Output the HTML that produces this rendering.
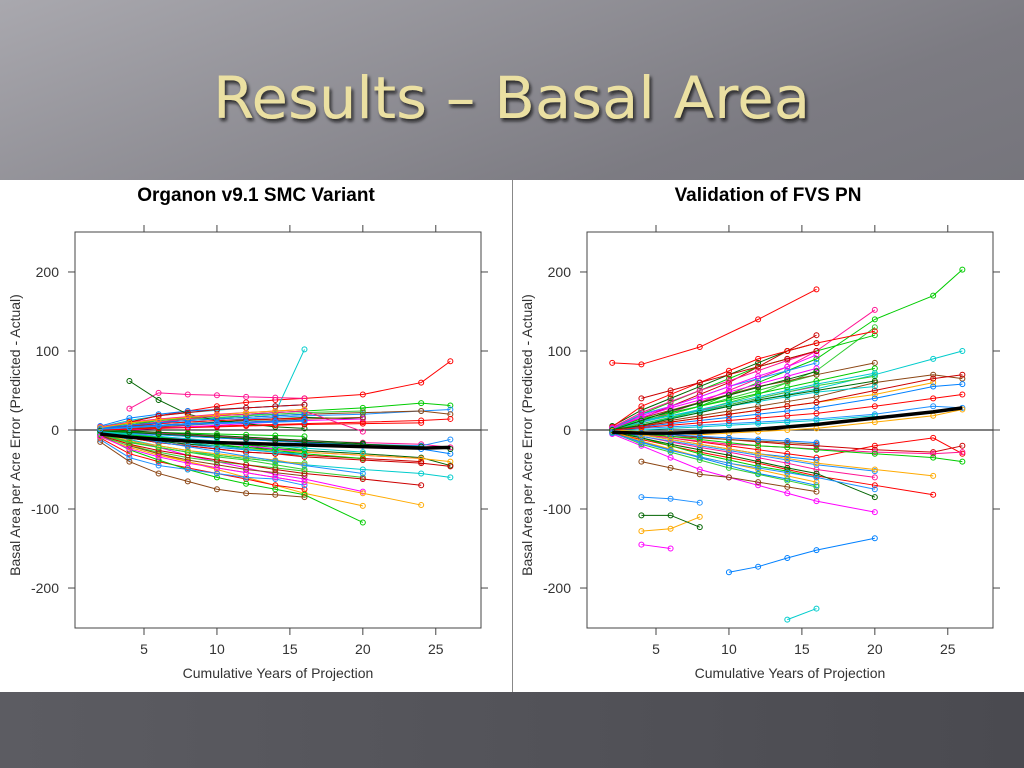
<!DOCTYPE html>
<html><head><meta charset="utf-8"><style>
html,body{margin:0;padding:0;width:1024px;height:768px;overflow:hidden;}
body{background:linear-gradient(160deg,#a9a8ae 0%,#7c7b82 35%,#5e5e65 100%);font-family:"Liberation Sans",sans-serif;position:relative;}
#bottom{position:absolute;left:0;top:692px;width:1024px;height:76px;background:linear-gradient(90deg,#5c5c62,#4a4a50);}
#panel{position:absolute;left:0;top:180px;width:1024px;height:512px;background:#fff;}
</style></head><body>
<div id="bottom"></div>
<svg width="1024" height="180" style="position:absolute;left:0;top:0">
<defs><filter id="sh"><feDropShadow dx="2" dy="3" stdDeviation="1.5" flood-color="#111" flood-opacity="0.8"/></filter></defs>
<text x="213" y="118" textLength="597" lengthAdjust="spacingAndGlyphs" font-family="DejaVu Sans, Liberation Sans, sans-serif" font-size="58" fill="#ebe0a2" filter="url(#sh)">Results – Basal Area</text>
</svg>
<svg id="panel" width="1024" height="512"></svg>
<script>
const orgX=[[2,4,6,8,10,12,14,16,20,24,26],[2,4,6,8,10,12,14,16,20,24,26],[2,4,6,8,10,12,14,16],[2,4,6,8,10,12,14,16],[2,4,6,8,10,12,14,16,20],[2,4,6,8,10,12,14,16,20],[2,4,6,8,10,12,14,16,20,24,26],[2,4,6,8,10,12,14,16,20,24,26],[4,6,8,10,12,14,16],[2,4,6,8,10,12,14,16,20],[2,4,6,8,10,12,14,16,20,24],[2,4,6,8,10,12,14,16,20,24,26],[2,4,6,8,10,12,14,16],[2,4,6,8,10,12,14,16,20],[2,4,6,8,10,12,14,16,20,24,26],[2,4,6,8,10,12,14,16],[2,4,6,8,10,12,14,16,20,24],[2,4,6,8,10,12,14,16,20,24,26],[2,4,6,8,10,12,14,16,20],[2,4,6,8,10,12,14,16],[2,4,6,8,10,12,14,16,20,24,26],[2,4,6,8,10,12,14,16,20],[2,4,6,8,10,12,14,16,20,24],[2,4,6,8,10,12,14,16],[2,4,6,8,10,12,14,16,20,24,26],[2,4,6,8,10,12,14,16,20],[2,4,6,8,10,12,14,16],[2,4,6,8,10,12,14,16,20,24,26],[2,4,6,8,10,12,14,16,20],[2,4,6,8,10,12,14,16,20,24],[4,6,8,10,12,14,16],[2,4,6,8,10,12,14,16,20,24,26],[2,4,6,8,10,12,14,16,20],[2,4,6,8,10,12,14,16],[2,4,6,8,10,12,14,16,20,24,26],[2,4,6,8,10,12,14,16,20],
[2,4,6,8,10,12,14,16],[2,4,6,8,10,12,14,16],[2,4,6,8,10,12,14,16],[2,4,6,8,10,12,14,16],[2,4,6,8,10,12,14,16],[2,4,6,8,10,12,14,16],[2,4,6,8,10,12,14,16,20],[2,4,6,8,10,12,14,16,20],[2,4,6,8,10,12,14,16],[2,4,6,8,10,12,14,16],[4,6,8,10,12,14,16],[4,6,8,10,12,14,16],[2,4,6,8,10,12,14,16,20,24],[2,4,6,8,10,12,14,16],[2,4,6,8,10,12,14,16],[2,4,6,8,10,12,14,16,20],[2,4,6,8,10,12,14,16],[2,4,6,8,10,12,14,16],[2,4,6,8,10,12,14,16,20,24,26],[2,4,6,8,10,12,14,16]];
const orgY=[[3,10,18,24,30,35,38,40,45,60,87],[1,6,12,15,18,20,22,24,28,34,31],[0,-5,-14,-18,-22,-25,-28,-30],[2,8,12,14,15,18,22,102],[-3,-12,-22,-32,-40,-48,-56,-62,-78],[-5,-18,-30,-40,-50,-60,-70,-80,-96],[-2,-8,-14,-18,-20,-22,-24,-26,-30,-35,-45],[0,4,8,10,12,14,16,18,20,24,26],[27,47,45,44,42,41,40],[-8,-20,-28,-35,-40,-44,-48,-52,-60],[-4,-10,-16,-20,-24,-28,-30,-32,-36,-40],[2,6,10,12,14,16,18,20,22,24,20],[-10,-30,-40,-48,-55,-62,-70,-75],[-6,-25,-38,-50,-60,-68,-75,-82,-117],[0,-3,-6,-8,-10,-12,-14,-16,-20,-24,-30],[4,12,18,22,25,28,30,32],[-1,-4,-8,-12,-16,-20,-24,-28,-32,-36],[-3,-8,-12,-16,-20,-24,-26,-28,-32,-36,-40],[1,4,6,8,10,12,14,16,14],[-12,-35,-45,-50,-55,-60,-62,-70],[0,-2,-4,-6,-8,-10,-12,-14,-16,-18,-22],[3,8,12,14,16,18,20,22,24],[-7,-18,-26,-32,-38,-44,-50,-55,-62,-70],[-15,-40,-55,-65,-75,-80,-82,-85],[1,2,3,4,5,6,7,8,10,12,14],[-2,-6,-10,-14,-18,-22,-26,-30,-36],[5,15,20,24,26,28,30,32],[-4,-12,-20,-26,-32,-36,-40,-44,-50,-55,-60],[-1,0,2,4,6,8,10,12,14],[-9,-22,-32,-40,-48,-54,-60,-66,-80,-95],[62,38,20,12,8,4,2],[-2,-4,-6,-8,-10,-12,-14,-16,-18,-20,-12],[2,6,10,14,18,20,22,24,-2],[-6,-16,-22,-28,-32,-36,-40,-42],[-3,-10,-16,-20,-24,-28,-30,-34,-38,-42,-46],[0,2,4,6,8,10,12,14,16],
[2,5,8,10,12,13,14,15],[-1,-2,-3,-4,-5,-6,-7,-8],[3,6,9,12,14,16,18,20],[-2,-7,-12,-16,-20,-24,-28,-32],[0,3,5,7,9,10,11,12],[-4,-14,-20,-26,-30,-34,-38,-44],[1,-1,-3,-5,-7,-9,-11,-13,-17],[-3,-9,-15,-21,-27,-33,-39,-45,-55],[4,10,14,17,20,22,24,26],[-5,-15,-22,-28,-34,-38,-44,-50],[10,18,22,26,28,30,32],[-20,-30,-38,-44,-50,-54,-58],[0,1,2,3,4,5,6,7,8,9],[-1,-5,-9,-13,-16,-19,-22,-25],[2,4,6,8,9,10,11,12],[-2,-5,-8,-11,-14,-17,-20,-23,-28],[-8,-24,-34,-42,-48,-54,-60,-66],[3,9,13,16,19,22,24,26],[-1,-3,-5,-7,-9,-11,-13,-15,-18,-21,-24],[1,3,5,7,8,9,10,11]];
const orgMeanX=[2,4,6,8,10,12,14,16,20,24,26];
const orgMeanY=[-5,-9,-12,-14,-16,-17,-18,-19,-21,-23,-22];
const fvsX=[[2,4,8,12,16],[2,4,6,8,10,12,14,16,20,24,26],[10,12,14,16,20],[14,16],[4,6],[4,6,8],[4,6,8],[4,6,8],[2,4,6,8,10,12,14,16,20],[2,4,6,8,10,12,14,16,20],[2,4,6,8,10,12,14,16],[2,4,6,8,10,12,14,16,20,24,26],[2,4,6,8,10,12,14,16,20,24,26],[2,4,6,8,10,12,14,16,20],[2,4,6,8,10,12,14,16],[2,4,6,8,10,12,14,16,20,24,26],[2,4,6,8,10,12,14,16,20],[2,4,6,8,10,12,14,16,20,24],[2,4,6,8,10,12,14,16],[2,4,6,8,10,12,14,16,20,24,26],[2,4,6,8,10,12,14,16,20],[2,4,6,8,10,12,14,16],[2,4,6,8,10,12,14,16,20,24,26],[2,4,6,8,10,12,14,16,20],[2,4,6,8,10,12,14,16,20,24],[2,4,6,8,10,12,14,16],[2,4,6,8,10,12,14,16,20,24,26],[2,4,6,8,10,12,14,16,20],[2,4,6,8,10,12,14,16],[2,4,6,8,10,12,14,16,20,24,26],[2,4,6,8,10,12,14,16,20],[2,4,6,8,10,12,14,16],[2,4,6,8,10,12,14,16,20,24,26],[2,4,6,8,10,12,14,16,20],[2,4,6,8,10,12,14,16,20,24,26],[2,4,6,8,10,12,14,16],[2,4,6,8,10,12,14,16,20],[2,4,6,8,10,12,14,16,20,24,26],[2,4,6,8,10,12,14,16],[2,4,6,8,10,12,14,16,20],
[2,4,6,8,10,12,14,16],[2,4,6,8,10,12,14,16],[2,4,6,8,10,12,14,16,20],[2,4,6,8,10,12,14,16,20],[2,4,6,8,10,12,14,16],[2,4,6,8,10,12,14,16],[4,6,8,10,12,14,16],[4,6,8,10,12,14,16],[2,4,6,8,10,12,14,16,20,24,26],[2,4,6,8,10,12,14,16,20],[2,4,6,8,10,12,14,16],[2,4,6,8,10,12,14,16,20],[2,4,6,8,10,12,14,16],[2,4,6,8,10,12,14,16,20,24],[2,4,6,8,10,12,14,16],[2,4,6,8,10,12,14,16,20]];
const fvsY=[[85,83,105,140,178],[2,10,20,30,45,60,75,90,140,170,203],[-180,-173,-162,-152,-137],[-240,-226],[-145,-150],[-128,-125,-110],[-108,-108,-123],[-85,-87,-92],[0,10,22,35,50,65,80,100,152],[-2,5,15,25,35,45,60,75,130],[3,15,30,45,60,80,100,120],[1,6,12,18,24,30,36,42,60,70,65],[-1,-5,-10,-15,-20,-25,-30,-35,-20,-10,-30],[0,20,35,50,65,80,90,100,120],[-3,-15,-25,-35,-45,-55,-62,-70],[2,8,15,22,30,38,45,52,70,90,100],[-5,-20,-35,-50,-60,-70,-80,-90,-104],[0,5,10,15,20,25,30,35,45,60],[5,25,40,55,70,85,100,110],[0,2,4,6,8,10,12,14,20,30,28],[-2,-8,-15,-22,-28,-35,-42,-50,-60],[1,12,20,30,40,50,60,70],[-1,-3,-6,-9,-12,-15,-18,-20,-25,-28,-20],[2,15,25,35,45,55,62,70,85],[-4,-12,-20,-28,-35,-42,-50,-58,-70,-82],[0,-10,-20,-30,-38,-46,-52,-60],[1,4,8,12,16,20,24,28,40,55,58],[-1,0,2,4,6,8,10,12,18],[3,10,18,25,32,40,48,55],[0,-2,-4,-6,-4,-2,0,2,10,18,26],[-3,-10,-18,-25,-32,-40,-48,-55,-85],[2,20,30,42,55,65,75,85],[-2,-6,-10,-14,-18,-20,-22,-24,-28,-30,-28],[0,8,16,24,32,40,48,56,68],[1,5,10,15,20,25,30,35,50,65,70],[-1,-4,-8,-10,-12,-14,-16,-18],[4,30,45,60,75,90,100,110,125],[-2,-5,-8,-12,-16,-20,-22,-25,-30,-35,-40],[0,-6,-12,-18,-24,-30,-34,-38],[2,12,18,24,30,36,42,48,55],
[1,18,30,42,55,68,80,95],[-2,-14,-24,-34,-42,-50,-58,-66],[0,6,14,22,30,38,44,50,62],[-1,-8,-14,-20,-26,-32,-38,-44,-52],[3,22,36,50,62,75,88,100],[-3,-18,-28,-38,-48,-56,-64,-72],[40,50,60,70,80,90,100],[-40,-48,-56,-60,-66,-72,-78],[0,3,6,9,12,15,18,21,30,40,45],[2,14,22,30,38,46,54,62,78],[-2,-4,-6,-8,-10,-12,-14,-16],[1,10,18,26,34,42,50,58,72],[2,16,28,38,48,58,68,78],[-1,-6,-12,-18,-24,-30,-36,-42,-50,-58],[0,12,24,34,44,54,64,74],[-4,-16,-26,-34,-42,-48,-54,-60,-75]];
const fvsMeanX=[2,4,6,8,10,12,14,16,20,24,26];
const fvsMeanY=[-3,-4,-4,-3,-1,1,4,7,15,23,28];
const xTicks=[5,10,15,20,25];
const yTicks=[-200,-100,0,100,200];
const palette=["#ff0000","#00cc00","#0080ff","#00cccc","#ff00ff","#ffaa00","#006400","#1e90ff","#ff1493","#32cd32","#cc0000","#8b4513"];
const svg=document.getElementById('panel');
const NS="http://www.w3.org/2000/svg";
function mk(tag,attrs,parent){const e=document.createElementNS(NS,tag);for(const k in attrs)e.setAttribute(k,attrs[k]);(parent||svg).appendChild(e);return e;}
function drawChart(ox,title,sx,sy,mx,my,name){
  const L=ox+75,R=ox+481,T=52,B=448;
  const xs=v=>L+(v-0.27)*(R-L)/(28.1-0.27);
  const ys=v=>T+(250.6-v)*(B-T)/501.2;
  const g=mk('g',{});
  
  
  const t=mk('text',{x:ox+256,y:21,'text-anchor':'middle','font-size':19,'font-weight':'bold','font-family':'Liberation Sans,sans-serif'},g);
  t.textContent=title;
  
  
  const cp=mk('clipPath',{id:'c'+name},g);mk('rect',{x:L,y:T,width:R-L,height:B-T},cp);
  const pg=mk('g',{'clip-path':'url(#c'+name+')'},g);
  mk('line',{x1:L,x2:R,y1:ys(0),y2:ys(0),stroke:'#000','stroke-width':1},pg);
  sx.forEach((xa,i)=>{
    const col=palette[i%palette.length];
    const pl=mk('polyline',{points:xa.map((x,j)=>xs(x)+','+ys(sy[i][j])).join(' '),fill:'none',stroke:col,'stroke-width':1},pg);
    
    
    xa.forEach((x,j)=>{const c=mk('circle',{cx:xs(x),cy:ys(sy[i][j]),r:2.5,fill:'none',stroke:col,'stroke-width':1},pg);
      
      });
  });
  const m=mk('polyline',{points:mx.map((x,j)=>xs(x)+','+ys(my[j])).join(' '),fill:'none',stroke:'#000','stroke-width':3.5},pg);
  
  
  mk('rect',{x:L,y:T,width:R-L,height:B-T,fill:'none',stroke:'#444','stroke-width':1},g);
  xTicks.forEach(v=>{const x=xs(v);
    mk('line',{x1:x,x2:x,y1:B,y2:B+7,stroke:'#444'},g);mk('line',{x1:x,x2:x,y1:T,y2:T-7,stroke:'#444'},g);
    const tl=mk('text',{x:x,y:B+26,'text-anchor':'middle','font-size':14,fill:'#333'},g);tl.textContent=v;
    
    });
  yTicks.forEach(v=>{const y=ys(v);
    mk('line',{x1:L,x2:L-7,y1:y,y2:y,stroke:'#444'},g);mk('line',{x1:R,x2:R+7,y1:y,y2:y,stroke:'#444'},g);
    const tl=mk('text',{x:L-16,y:y+5,'text-anchor':'end','font-size':14,fill:'#333'},g);tl.textContent=v;
    
    });
  const xt=mk('text',{x:(L+R)/2,y:498,'text-anchor':'middle','font-size':14,fill:'#333'},g);xt.textContent='Cumulative Years of Projection';
  
  
  const yt=mk('text',{x:0,y:0,'text-anchor':'middle','font-size':14,fill:'#333',transform:'translate('+(ox+20)+','+((T+B)/2+5)+') rotate(-90)'},g);yt.textContent='Basal Area per Acre Error (Predicted - Actual)';
  
  
}
drawChart(0,'Organon v9.1 SMC Variant',orgX,orgY,orgMeanX,orgMeanY,'organon-chart');
drawChart(512,'Validation of FVS PN',fvsX,fvsY,fvsMeanX,fvsMeanY,'fvs-chart');
const d=mk('line',{x1:512.5,x2:512.5,y1:0,y2:512,stroke:'#888'});


</script>
</body></html>
